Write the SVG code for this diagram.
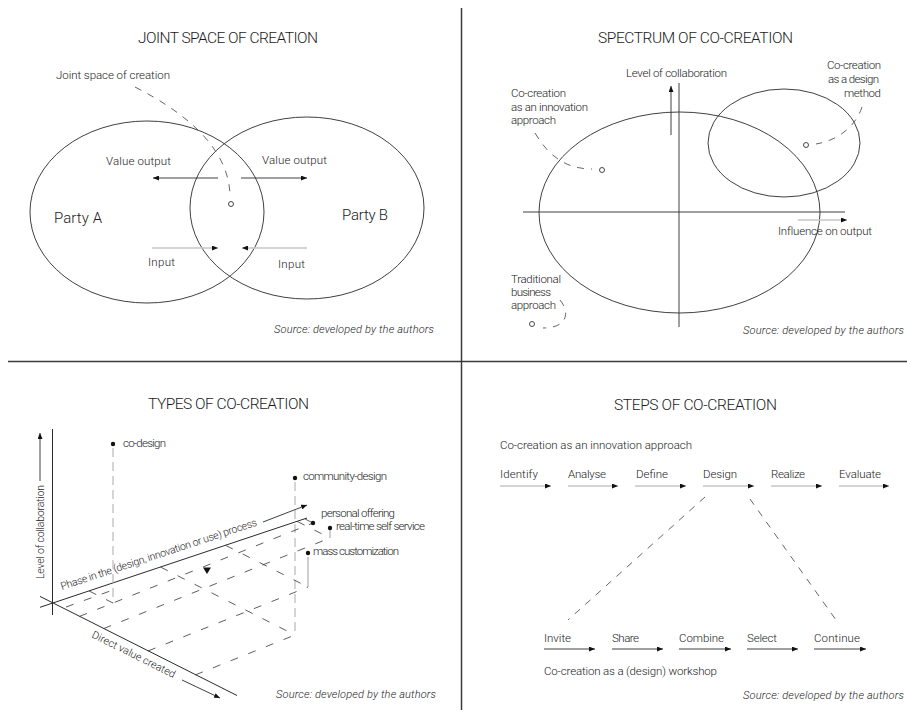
<svg xmlns="http://www.w3.org/2000/svg" width="907" height="710" viewBox="0 0 907 710">
<defs>
<style>
text{font-family:Roboto,"Liberation Sans",sans-serif;font-weight:300;fill:#1a1a1a;font-size:11.5px}
.ti{font-size:15.5px}
.big{font-size:15px}
.sm{font-size:10.5px}
.src{font-style:italic;font-size:11px}
.ln{stroke:#2a2a2a;stroke-width:0.9;fill:none}
.ax{stroke:#2a2a2a;stroke-width:1;fill:none}
.gr{stroke:#c6c6c6;stroke-width:1.6;fill:none}
.dv{stroke:#3a3a3a;stroke-width:1.5}
.cd{stroke:#555;stroke-width:0.9;stroke-dasharray:7 7;fill:none}
.fl{stroke:#333;stroke-width:0.8;stroke-dasharray:8 11;fill:none}
.vd{stroke:#aaa;stroke-width:1;stroke-dasharray:9 5;fill:none}
.dot{fill:#111}
.ring{fill:#fff;stroke:#333;stroke-width:0.9}
</style>
<marker id="ah" viewBox="0 0 6 5" refX="6" refY="2.5" markerWidth="6" markerHeight="5" markerUnits="userSpaceOnUse" orient="auto">
<path d="M0,0 L6,2.5 L0,5 z" fill="#111"/>
</marker>
</defs>
<rect width="907" height="710" fill="#fff"/>

<g id="dividers">
<line class="dv" x1="461.5" y1="8" x2="461.5" y2="710"/>
<line class="dv" x1="8" y1="361.5" x2="907" y2="361.5"/>
</g>

<!-- ============ JOINT SPACE OF CREATION ============ -->
<g id="joint-space">
<text class="ti" x="138" y="43" textLength="180">JOINT SPACE OF CREATION</text>
<g id="party-a"><ellipse class="ln" cx="147" cy="212" rx="117" ry="91"/><text class="big" x="54" y="223" textLength="48">Party A</text></g>
<g id="party-b"><ellipse class="ln" cx="307" cy="208" rx="117" ry="91"/><text class="big" x="342" y="220" textLength="46">Party B</text></g>
<g id="joint-label"><text x="56" y="79" textLength="114">Joint space of creation</text><circle class="ring" cx="231" cy="204" r="2.5"/></g>
<g id="value-out-a"><text x="106" y="165" textLength="65">Value output</text></g>
<g id="value-out-b"><text x="262" y="164" textLength="65">Value output</text></g>
<g id="input-a"><text x="148" y="266" textLength="27">Input</text></g>
<g id="input-b"><text x="278" y="268" textLength="27">Input</text></g>
<text class="src" x="274" y="333" textLength="160">Source: developed by the authors</text>
</g>

<!-- ============ SPECTRUM OF CO-CREATION ============ -->
<g id="spectrum">
<text class="ti" x="598" y="43" textLength="195">SPECTRUM OF CO-CREATION</text>
<g id="innovation-approach-ellipse"><ellipse class="ln" cx="679.5" cy="212.5" rx="140.5" ry="100.5"/></g>
<g id="design-method-ellipse"><ellipse class="ln" cx="784" cy="143" rx="76" ry="54"/></g>
<g id="axis-collab"><line class="ln" x1="679" y1="83" x2="679" y2="327"/><text x="626" y="77" textLength="101">Level of collaboration</text></g>
<g id="axis-influence"><line class="ln" x1="523" y1="212" x2="845" y2="212"/><text x="778" y="235" textLength="94">Influence on output</text></g>
<g id="lbl-design-method">
<text x="827" y="69" textLength="54">Co-creation</text>
<text x="828" y="83" textLength="51">as a design</text>
<text x="844" y="97" textLength="37">method</text>
<circle class="ring" cx="806" cy="145" r="2.5"/>
</g>
<g id="lbl-innovation">
<text x="511" y="97" textLength="55">Co-creation</text>
<text x="511" y="111" textLength="77">as an innovation</text>
<text x="511" y="124" textLength="45">approach</text>
<circle class="ring" cx="602" cy="170" r="2.5"/>
</g>
<g id="lbl-traditional">
<text x="511" y="283" textLength="50">Traditional</text>
<text x="511" y="296" textLength="40">business</text>
<text x="511" y="309" textLength="45">approach</text>
<circle class="ring" cx="532" cy="324" r="2.5"/>
</g>
<text class="src" x="743" y="334" textLength="161">Source: developed by the authors</text>
</g>

<!-- ============ TYPES OF CO-CREATION ============ -->
<g id="types">
<text class="ti" x="148" y="409" textLength="161">TYPES OF CO-CREATION</text>
<g id="axis-level">
<line class="ax" x1="52.5" y1="429" x2="52.5" y2="615"/>
<text class="sm" x="44" y="579" transform="rotate(-90 44 579)" textLength="94">Level of collaboration</text>
</g>
<g id="axis-phase">
<line class="ax" x1="40" y1="607.3" x2="307" y2="518"/>
<text class="sm" x="62" y="590" transform="rotate(-18.3 62 590)" textLength="206">Phase in the (design, innovation or use) process</text>
</g>
<g id="axis-value">
<line class="ax" x1="40" y1="596.4" x2="237" y2="695.5"/>
<text class="sm" x="91" y="637" transform="rotate(26.5 91 637)" textLength="92">Direct value created</text>
</g>
<g id="grid">
<line class="vd" x1="113" y1="448" x2="113" y2="603"/>
<line class="vd" x1="295" y1="482" x2="295" y2="635"/>
<line stroke="#888" stroke-width="0.8" x1="308" y1="557" x2="308" y2="587"/>
<line stroke="#888" stroke-width="0.8" x1="330" y1="530" x2="330" y2="538"/>
<line class="fl" x1="89.1" y1="591" x2="113" y2="603"/>
<line class="fl" x1="160.6" y1="567.1" x2="295" y2="635"/>
<line class="fl" x1="225.7" y1="545.4" x2="308" y2="587"/>
<line class="fl" x1="297.4" y1="521.5" x2="330" y2="538"/>
<line class="fl" x1="305.1" y1="519" x2="313" y2="523"/>
<line class="fl" x1="66" y1="607" x2="113" y2="590"/>
<line class="fl" x1="79.5" y1="616.4" x2="313" y2="523"/>
<line class="fl" x1="103.6" y1="628.6" x2="330" y2="538"/>
<line class="fl" x1="148" y1="651" x2="308" y2="587"/>
<line class="fl" x1="195.3" y1="674.9" x2="295" y2="635"/>
<path d="M203,567.5 L211,567.5 L207,574 z" fill="#111"/>
</g>
<g id="pt-co-design"><circle class="dot" cx="113" cy="444" r="2.2"/><text x="123" y="447" textLength="43">co-design</text></g>
<g id="pt-community-design"><circle class="dot" cx="295" cy="478" r="2.2"/><text x="303" y="480" textLength="84">community-design</text></g>
<g id="pt-personal-offering"><circle class="dot" cx="313" cy="523" r="2.2"/><text x="321" y="517" textLength="74">personal offering</text></g>
<g id="pt-real-time"><circle class="dot" cx="330" cy="528" r="2.2"/><text x="336" y="530" textLength="89">real-time self service</text></g>
<g id="pt-mass-customization"><circle class="dot" cx="308" cy="553" r="2.2"/><text x="313" y="555" textLength="86">mass customization</text></g>
<text class="src" x="276" y="698" textLength="160">Source: developed by the authors</text>
</g>

<!-- ============ STEPS OF CO-CREATION ============ -->
<g id="steps">
<text class="ti" x="614" y="410" textLength="163">STEPS OF CO-CREATION</text>
<text x="500" y="449" textLength="192">Co-creation as an innovation approach</text>
<g id="step-identify"><text x="500" y="478" textLength="38">Identify</text></g>
<g id="step-analyse"><text x="568" y="478" textLength="38">Analyse</text></g>
<g id="step-define"><text x="636" y="478" textLength="32">Define</text></g>
<g id="step-design"><text x="703" y="478" textLength="34">Design</text></g>
<g id="step-realize"><text x="771" y="478" textLength="34">Realize</text></g>
<g id="step-evaluate"><text x="839" y="478" textLength="42">Evaluate</text></g>
<g id="step-invite"><text x="544" y="642" textLength="27">Invite</text></g>
<g id="step-share"><text x="612" y="642" textLength="27">Share</text></g>
<g id="step-combine"><text x="679" y="642" textLength="45">Combine</text></g>
<g id="step-select"><text x="747" y="642" textLength="30">Select</text></g>
<g id="step-continue"><text x="814" y="642" textLength="46">Continue</text></g>
<text x="544" y="675" textLength="173">Co-creation as a (design) workshop</text>
<text class="src" x="743" y="699" textLength="161">Source: developed by the authors</text>
</g>

<!-- ============ CONNECTORS ============ -->
<g id="connectors">
<path class="cd" d="M135,87 C190,115 228,150 230,194"/>
<line class="ln" x1="218" y1="178" x2="153" y2="178" marker-end="url(#ah)"/>
<line class="ln" x1="241" y1="178" x2="307" y2="178" marker-end="url(#ah)"/>
<line class="gr" x1="152" y1="248" x2="218" y2="248" marker-end="url(#ah)"/>
<line class="gr" x1="307" y1="248" x2="242" y2="248" marker-end="url(#ah)"/>

<line class="ln" x1="671" y1="135" x2="671" y2="86" marker-end="url(#ah)"/>
<line class="gr" x1="798" y1="220" x2="847" y2="220" marker-end="url(#ah)"/>
<path class="cd" d="M862,107 C856,125 840,140 816,144" stroke-dasharray="6 8"/>
<path class="cd" d="M535,133 C548,155 565,169 592,169" stroke-dasharray="6 8"/>
<path class="cd" d="M560,300 C570,312 568,328 543,328" stroke-dasharray="6 8"/>

<line class="ln" x1="40" y1="481" x2="40" y2="433" marker-end="url(#ah)"/>
<line class="ln" x1="263" y1="522" x2="307" y2="505" marker-end="url(#ah)"/>
<line class="ln" x1="182" y1="680" x2="220" y2="698" marker-end="url(#ah)"/>

<line class="gr" x1="500" y1="486" x2="551" y2="486" marker-end="url(#ah)"/>
<line class="gr" x1="568" y1="486" x2="618" y2="486" marker-end="url(#ah)"/>
<line class="gr" x1="635" y1="486" x2="686" y2="486" marker-end="url(#ah)"/>
<line class="gr" x1="703" y1="486" x2="754" y2="486" marker-end="url(#ah)"/>
<line class="gr" x1="771" y1="486" x2="822" y2="486" marker-end="url(#ah)"/>
<line class="gr" x1="839" y1="486" x2="889" y2="486" marker-end="url(#ah)"/>
<line class="ln" x1="544" y1="649" x2="595" y2="649" marker-end="url(#ah)"/>
<line class="ln" x1="612" y1="649" x2="663" y2="649" marker-end="url(#ah)"/>
<line class="ln" x1="679" y1="649" x2="731" y2="649" marker-end="url(#ah)"/>
<line class="ln" x1="747" y1="649" x2="798" y2="649" marker-end="url(#ah)"/>
<line class="ln" x1="814" y1="649" x2="866" y2="649" marker-end="url(#ah)"/>
<line class="cd" x1="705" y1="497" x2="568" y2="620" stroke-dasharray="7 9"/>
<line class="cd" x1="750" y1="499" x2="836" y2="620" stroke-dasharray="7 9"/>
</g>
</svg>
